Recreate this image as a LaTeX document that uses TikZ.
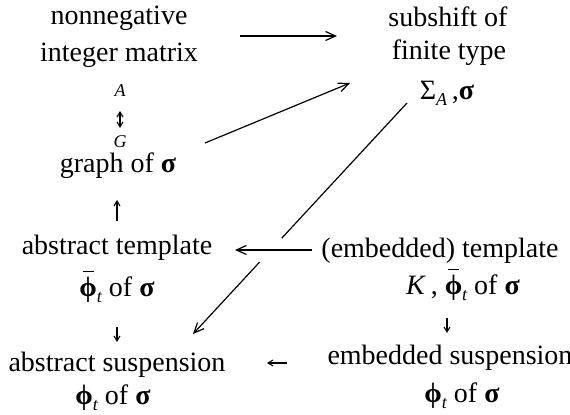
\documentclass[tikz,border=0pt]{standalone}
\usepackage{fontspec}
\setmainfont{Liberation Serif}
\usetikzlibrary{arrows.meta}
\newcommand{\subt}[1]{\raisebox{-0.45ex}{\fontsize{9}{10}\selectfont\itshape #1}}
\newcommand{\bphi}{\textbf{ϕ}}
\newcommand{\bsig}{\textbf{σ}}
\newcommand{\phibar}{\leavevmode\setbox0\hbox{\bphi}\rlap{\hbox to \wd0{\hss\raisebox{0.9em}{\rule{0.4em}{0.6pt}}\hss}}\box0}
\begin{document}
\begin{tikzpicture}[x=0.5pt,y=-0.5pt,
  txt/.style={anchor=base, inner sep=0pt, font=\fontsize{14}{16}\selectfont},
  lbl/.style={anchor=base, inner sep=0pt, font=\fontsize{9}{10}\selectfont\itshape},
  conn/.style={-{Straight Barb[length=5pt,width=4.5pt]}, line width=0.6pt},
  glyph/.style={-{Straight Barb[length=2.5pt,width=3pt]}, line width=0.55pt},
  glyphboth/.style={{Straight Barb[length=2.5pt,width=3pt]}-{Straight Barb[length=2.5pt,width=3pt]}, line width=0.55pt}]
\useasboundingbox (0,0) rectangle (570,415);
% left column
\node[txt] (nn) at (119,25) {nonnegative};
\node[txt] (im) at (119,62) {integer matrix};
\node[lbl] (A) at (120,97) {A};
\node[lbl] (G) at (120,148) {G};
\node[txt] (gr) at (118,173) {graph of \bsig};
\node[txt] (at) at (117,255) {abstract template};
\node[txt] (atp) at (117,297) {\phibar\subt{t} of \bsig};
\node[txt] (as) at (117,372) {abstract suspension};
\node[txt] (asp) at (113,405) {\bphi\subt{t} of \bsig};
% right column
\node[txt] (sf) at (448,27) {subshift of};
\node[txt] (ft) at (449,60) {finite type};
\node[txt] (sig) at (447,100) {Σ\subt{A}\,,\bsig};
\node[txt] (et) at (440,258) {(embedded) template};
\node[txt] (etp) at (463,295) {\textit{K}\,, \phibar\subt{t} of \bsig};
\node[txt] (es) at (450,365) {embedded suspension};
\node[txt] (esp) at (462,403) {\bphi\subt{t} of \bsig};
% coordinates for connector ends
\coordinate (t1) at (240,36);   \coordinate (t2) at (337,36);
\coordinate (m1) at (205,143);  \coordinate (m2) at (350,83);
\coordinate (d1) at (407,103);  \coordinate (d2) at (193,334);
\coordinate (h1) at (312,250);  \coordinate (h2) at (235,250);
\coordinate (ud1) at (120,111); \coordinate (ud2) at (120,128);
\coordinate (u1) at (117,221);  \coordinate (u2) at (117,200);
\coordinate (dl1) at (117,327); \coordinate (dl2) at (117,342);
\coordinate (dr1) at (447,318); \coordinate (dr2) at (447,333);
\coordinate (l1) at (287,363);  \coordinate (l2) at (267,363);
\coordinate (cx) at (270,250);
% connectors
\draw[conn] (t1) -- (t2);
\draw[conn] (m1) -- (m2);
\draw[conn] (d1) -- (d2);
\draw[white, line width=12pt] ([xshift=-6pt]cx) -- ([xshift=6pt]cx);
\draw[conn] (h1) -- (h2);
\draw[glyphboth] (ud1) -- (ud2);
\draw[glyph] (u1) -- (u2);
\draw[glyph] (dl1) -- (dl2);
\draw[glyph] (dr1) -- (dr2);
\draw[glyph] (l1) -- (l2);
\end{tikzpicture}
\end{document}
